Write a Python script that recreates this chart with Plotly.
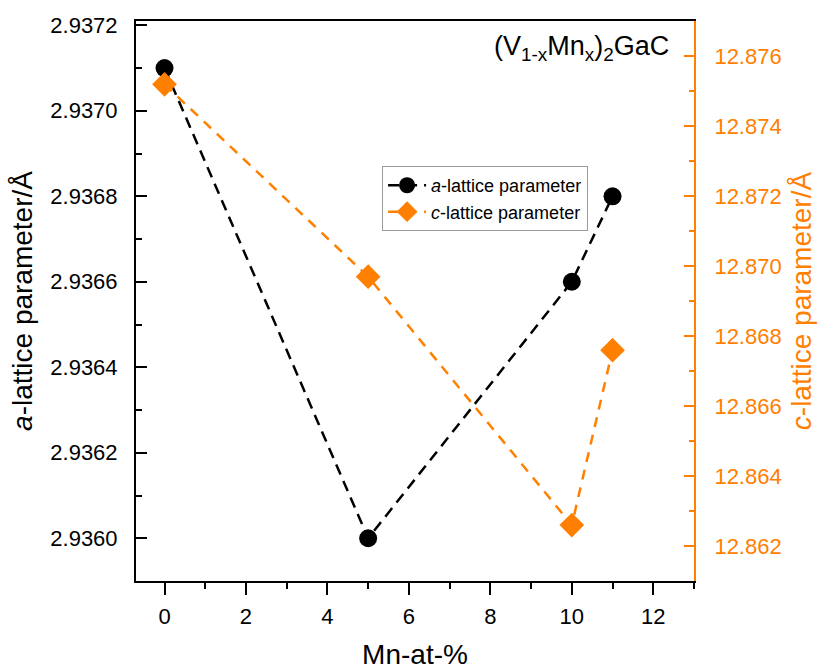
import plotly.graph_objects as go

# Mn content (at-%) and measured lattice parameters of (V1-xMnx)2GaC
mn_at_pct = [0, 5, 10, 11]
a_param = [2.9371, 2.9360, 2.9366, 2.9368]
c_param = [12.8752, 12.8697, 12.8626, 12.8676]

# Tick positions for each axis
x_major = [0, 2, 4, 6, 8, 10, 12]
x_minor = [1, 3, 5, 7, 9, 11, 13]
a_major = [2.9360, 2.9362, 2.9364, 2.9366, 2.9368, 2.9370, 2.9372]
a_minor = [2.9359, 2.9361, 2.9363, 2.9365, 2.9367, 2.9369, 2.9371]
c_major = [12.862, 12.864, 12.866, 12.868, 12.870, 12.872, 12.874, 12.876]
c_minor = [12.861, 12.863, 12.865, 12.867, 12.869, 12.871, 12.873, 12.875, 12.877]

ORANGE = "#FF8000"
FONT = "Liberation Sans, Arial, sans-serif"

fig = go.Figure()

fig.add_trace(go.Scatter(
    x=mn_at_pct, y=a_param, yaxis="y",
    mode="lines+markers", name="<i>a</i>-lattice parameter",
    line=dict(color="black", width=2.5, dash="11px,7px"),
    marker=dict(symbol="circle", size=18, color="black"),
))
fig.add_trace(go.Scatter(
    x=mn_at_pct, y=c_param, yaxis="y2",
    mode="lines+markers", name="<i>c</i>-lattice parameter",
    line=dict(color=ORANGE, width=2.5, dash="10px,8px"),
    marker=dict(symbol="diamond", size=19, color=ORANGE),
))

fig.update_layout(
    width=817, height=670,
    margin=dict(l=136, r=123, t=21, b=89),
    paper_bgcolor="white", plot_bgcolor="white",
    font=dict(family=FONT, size=21, color="black"),
    showlegend=True,
    legend=dict(
        x=0.441, y=0.741, xanchor="left", yanchor="top",
        bgcolor="white", bordercolor="#9a9a9a", borderwidth=1,
        font=dict(size=18, color="black"),
        itemwidth=38, tracegroupgap=0,
    ),
    xaxis=dict(
        range=[-0.7, 13], showgrid=False, zeroline=False, automargin=False,
        showline=True, linecolor="black", linewidth=2, mirror=True,
        tickmode="array", tickvals=x_major,
        ticks="outside", ticklen=12, tickwidth=2, tickcolor="black",
        minor=dict(tickmode="array", tickvals=x_minor, ticks="outside",
                   ticklen=6, tickwidth=2, tickcolor="black"),
        ticklabelstandoff=3,
        tickfont=dict(size=22),
        title=dict(text="Mn-at-%", font=dict(size=28), standoff=18),
    ),
    yaxis=dict(
        range=[2.9359, 2.93721], showgrid=False, zeroline=False, automargin=False,
        showline=True, linecolor="black", linewidth=2,
        tickmode="array", tickvals=a_major, tickformat=".4f",
        ticks="inside", ticklen=11, tickwidth=2, tickcolor="black",
        minor=dict(tickmode="array", tickvals=a_minor, ticks="inside",
                   ticklen=6, tickwidth=2, tickcolor="black"),
        ticklabelstandoff=12,
        tickfont=dict(size=22),
        title=dict(text="<i>a</i>-lattice parameter/Å", font=dict(size=28), standoff=10),
    ),
    yaxis2=dict(
        range=[12.861, 12.87701], overlaying="y", side="right",
        showgrid=False, zeroline=False, automargin=False,
        showline=True, linecolor=ORANGE, linewidth=2,
        tickmode="array", tickvals=c_major, tickformat=".3f",
        ticks="inside", ticklen=10, tickwidth=2, tickcolor=ORANGE,
        minor=dict(tickmode="array", tickvals=c_minor, ticks="inside",
                   ticklen=5, tickwidth=2, tickcolor=ORANGE),
        ticklabelstandoff=14,
        tickfont=dict(size=22, color=ORANGE),
        title=dict(text="<i>c</i>-lattice parameter/Å", font=dict(size=28, color=ORANGE), standoff=16),
    ),
    annotations=[dict(
        text="(V<sub>1-x</sub>Mn<sub>x</sub>)<sub>2</sub>GaC",
        xref="paper", yref="paper", x=0.958, y=0.952,
        xanchor="right", yanchor="middle", showarrow=False,
        font=dict(size=27, color="black"),
    )],
)

fig.write_html("out.html")
